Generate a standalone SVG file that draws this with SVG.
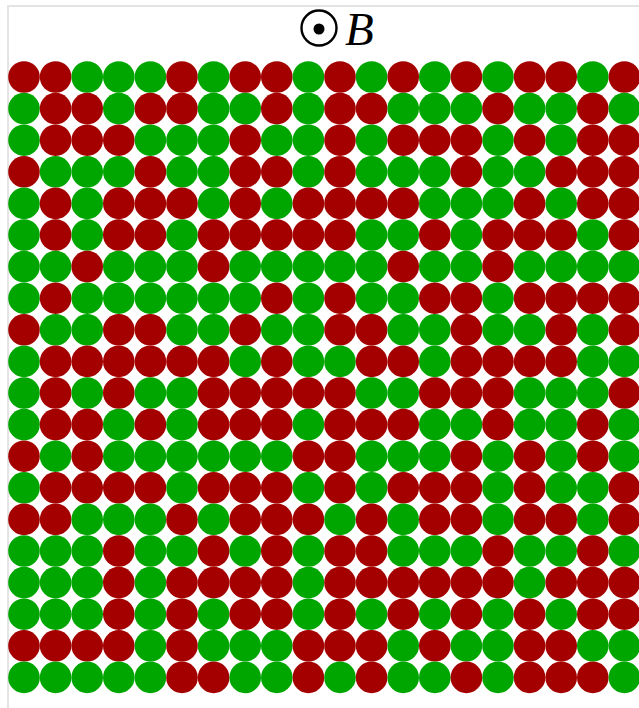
<svg xmlns="http://www.w3.org/2000/svg" width="639" height="708" viewBox="0 0 639 708">
<style>
.r{fill:#a50000}
.g{fill:#00a600}
.frame{fill:none;stroke:#e4e4e4;stroke-width:2}
</style>
<rect x="0" y="0" width="639" height="708" fill="#ffffff"/>
<rect class="frame" x="8" y="6" width="660" height="740"/>
<g id="field-symbol">
<circle cx="319" cy="28" r="17.5" fill="none" stroke="#000" stroke-width="2.4"/>
<circle cx="319" cy="29" r="5.5" fill="#000"/>
<text x="345" y="45" font-family="Liberation Serif, serif" font-style="italic" font-size="47" fill="#000">B</text>
</g>
<g id="grid">
<g id="row1" transform="translate(0,77)"><circle class="r" cx="24" r="15.8"/><circle class="r" cx="55.6" r="15.8"/><circle class="g" cx="87.2" r="15.8"/><circle class="g" cx="118.8" r="15.8"/><circle class="g" cx="150.4" r="15.8"/><circle class="r" cx="182" r="15.8"/><circle class="g" cx="213.6" r="15.8"/><circle class="r" cx="245.2" r="15.8"/><circle class="r" cx="276.8" r="15.8"/><circle class="g" cx="308.4" r="15.8"/><circle class="r" cx="340" r="15.8"/><circle class="g" cx="371.6" r="15.8"/><circle class="r" cx="403.2" r="15.8"/><circle class="g" cx="434.8" r="15.8"/><circle class="r" cx="466.4" r="15.8"/><circle class="g" cx="498" r="15.8"/><circle class="r" cx="529.6" r="15.8"/><circle class="r" cx="561.2" r="15.8"/><circle class="g" cx="592.8" r="15.8"/><circle class="r" cx="624.4" r="15.8"/></g>
<g id="row2" transform="translate(0,108.6)"><circle class="g" cx="24" r="15.8"/><circle class="r" cx="55.6" r="15.8"/><circle class="r" cx="87.2" r="15.8"/><circle class="g" cx="118.8" r="15.8"/><circle class="r" cx="150.4" r="15.8"/><circle class="r" cx="182" r="15.8"/><circle class="g" cx="213.6" r="15.8"/><circle class="g" cx="245.2" r="15.8"/><circle class="r" cx="276.8" r="15.8"/><circle class="g" cx="308.4" r="15.8"/><circle class="r" cx="340" r="15.8"/><circle class="r" cx="371.6" r="15.8"/><circle class="g" cx="403.2" r="15.8"/><circle class="g" cx="434.8" r="15.8"/><circle class="g" cx="466.4" r="15.8"/><circle class="r" cx="498" r="15.8"/><circle class="g" cx="529.6" r="15.8"/><circle class="g" cx="561.2" r="15.8"/><circle class="r" cx="592.8" r="15.8"/><circle class="g" cx="624.4" r="15.8"/></g>
<g id="row3" transform="translate(0,140.2)"><circle class="g" cx="24" r="15.8"/><circle class="r" cx="55.6" r="15.8"/><circle class="r" cx="87.2" r="15.8"/><circle class="r" cx="118.8" r="15.8"/><circle class="g" cx="150.4" r="15.8"/><circle class="g" cx="182" r="15.8"/><circle class="g" cx="213.6" r="15.8"/><circle class="r" cx="245.2" r="15.8"/><circle class="g" cx="276.8" r="15.8"/><circle class="g" cx="308.4" r="15.8"/><circle class="r" cx="340" r="15.8"/><circle class="g" cx="371.6" r="15.8"/><circle class="r" cx="403.2" r="15.8"/><circle class="r" cx="434.8" r="15.8"/><circle class="r" cx="466.4" r="15.8"/><circle class="g" cx="498" r="15.8"/><circle class="r" cx="529.6" r="15.8"/><circle class="g" cx="561.2" r="15.8"/><circle class="r" cx="592.8" r="15.8"/><circle class="r" cx="624.4" r="15.8"/></g>
<g id="row4" transform="translate(0,171.8)"><circle class="r" cx="24" r="15.8"/><circle class="g" cx="55.6" r="15.8"/><circle class="g" cx="87.2" r="15.8"/><circle class="g" cx="118.8" r="15.8"/><circle class="r" cx="150.4" r="15.8"/><circle class="g" cx="182" r="15.8"/><circle class="g" cx="213.6" r="15.8"/><circle class="r" cx="245.2" r="15.8"/><circle class="r" cx="276.8" r="15.8"/><circle class="g" cx="308.4" r="15.8"/><circle class="r" cx="340" r="15.8"/><circle class="g" cx="371.6" r="15.8"/><circle class="g" cx="403.2" r="15.8"/><circle class="g" cx="434.8" r="15.8"/><circle class="r" cx="466.4" r="15.8"/><circle class="g" cx="498" r="15.8"/><circle class="g" cx="529.6" r="15.8"/><circle class="r" cx="561.2" r="15.8"/><circle class="r" cx="592.8" r="15.8"/><circle class="r" cx="624.4" r="15.8"/></g>
<g id="row5" transform="translate(0,203.4)"><circle class="g" cx="24" r="15.8"/><circle class="r" cx="55.6" r="15.8"/><circle class="g" cx="87.2" r="15.8"/><circle class="r" cx="118.8" r="15.8"/><circle class="r" cx="150.4" r="15.8"/><circle class="r" cx="182" r="15.8"/><circle class="g" cx="213.6" r="15.8"/><circle class="r" cx="245.2" r="15.8"/><circle class="g" cx="276.8" r="15.8"/><circle class="r" cx="308.4" r="15.8"/><circle class="r" cx="340" r="15.8"/><circle class="r" cx="371.6" r="15.8"/><circle class="r" cx="403.2" r="15.8"/><circle class="g" cx="434.8" r="15.8"/><circle class="g" cx="466.4" r="15.8"/><circle class="g" cx="498" r="15.8"/><circle class="r" cx="529.6" r="15.8"/><circle class="g" cx="561.2" r="15.8"/><circle class="r" cx="592.8" r="15.8"/><circle class="r" cx="624.4" r="15.8"/></g>
<g id="row6" transform="translate(0,235)"><circle class="g" cx="24" r="15.8"/><circle class="r" cx="55.6" r="15.8"/><circle class="g" cx="87.2" r="15.8"/><circle class="r" cx="118.8" r="15.8"/><circle class="r" cx="150.4" r="15.8"/><circle class="g" cx="182" r="15.8"/><circle class="r" cx="213.6" r="15.8"/><circle class="r" cx="245.2" r="15.8"/><circle class="r" cx="276.8" r="15.8"/><circle class="r" cx="308.4" r="15.8"/><circle class="r" cx="340" r="15.8"/><circle class="g" cx="371.6" r="15.8"/><circle class="g" cx="403.2" r="15.8"/><circle class="r" cx="434.8" r="15.8"/><circle class="g" cx="466.4" r="15.8"/><circle class="r" cx="498" r="15.8"/><circle class="r" cx="529.6" r="15.8"/><circle class="r" cx="561.2" r="15.8"/><circle class="g" cx="592.8" r="15.8"/><circle class="r" cx="624.4" r="15.8"/></g>
<g id="row7" transform="translate(0,266.6)"><circle class="g" cx="24" r="15.8"/><circle class="g" cx="55.6" r="15.8"/><circle class="r" cx="87.2" r="15.8"/><circle class="g" cx="118.8" r="15.8"/><circle class="g" cx="150.4" r="15.8"/><circle class="g" cx="182" r="15.8"/><circle class="r" cx="213.6" r="15.8"/><circle class="g" cx="245.2" r="15.8"/><circle class="g" cx="276.8" r="15.8"/><circle class="g" cx="308.4" r="15.8"/><circle class="g" cx="340" r="15.8"/><circle class="g" cx="371.6" r="15.8"/><circle class="r" cx="403.2" r="15.8"/><circle class="g" cx="434.8" r="15.8"/><circle class="g" cx="466.4" r="15.8"/><circle class="r" cx="498" r="15.8"/><circle class="g" cx="529.6" r="15.8"/><circle class="g" cx="561.2" r="15.8"/><circle class="g" cx="592.8" r="15.8"/><circle class="g" cx="624.4" r="15.8"/></g>
<g id="row8" transform="translate(0,298.2)"><circle class="g" cx="24" r="15.8"/><circle class="r" cx="55.6" r="15.8"/><circle class="g" cx="87.2" r="15.8"/><circle class="g" cx="118.8" r="15.8"/><circle class="g" cx="150.4" r="15.8"/><circle class="g" cx="182" r="15.8"/><circle class="g" cx="213.6" r="15.8"/><circle class="g" cx="245.2" r="15.8"/><circle class="r" cx="276.8" r="15.8"/><circle class="g" cx="308.4" r="15.8"/><circle class="r" cx="340" r="15.8"/><circle class="g" cx="371.6" r="15.8"/><circle class="g" cx="403.2" r="15.8"/><circle class="r" cx="434.8" r="15.8"/><circle class="r" cx="466.4" r="15.8"/><circle class="g" cx="498" r="15.8"/><circle class="r" cx="529.6" r="15.8"/><circle class="r" cx="561.2" r="15.8"/><circle class="r" cx="592.8" r="15.8"/><circle class="r" cx="624.4" r="15.8"/></g>
<g id="row9" transform="translate(0,329.8)"><circle class="r" cx="24" r="15.8"/><circle class="g" cx="55.6" r="15.8"/><circle class="g" cx="87.2" r="15.8"/><circle class="r" cx="118.8" r="15.8"/><circle class="r" cx="150.4" r="15.8"/><circle class="g" cx="182" r="15.8"/><circle class="g" cx="213.6" r="15.8"/><circle class="r" cx="245.2" r="15.8"/><circle class="g" cx="276.8" r="15.8"/><circle class="g" cx="308.4" r="15.8"/><circle class="r" cx="340" r="15.8"/><circle class="r" cx="371.6" r="15.8"/><circle class="g" cx="403.2" r="15.8"/><circle class="g" cx="434.8" r="15.8"/><circle class="r" cx="466.4" r="15.8"/><circle class="g" cx="498" r="15.8"/><circle class="g" cx="529.6" r="15.8"/><circle class="r" cx="561.2" r="15.8"/><circle class="g" cx="592.8" r="15.8"/><circle class="r" cx="624.4" r="15.8"/></g>
<g id="row10" transform="translate(0,361.4)"><circle class="g" cx="24" r="15.8"/><circle class="r" cx="55.6" r="15.8"/><circle class="r" cx="87.2" r="15.8"/><circle class="r" cx="118.8" r="15.8"/><circle class="r" cx="150.4" r="15.8"/><circle class="r" cx="182" r="15.8"/><circle class="r" cx="213.6" r="15.8"/><circle class="g" cx="245.2" r="15.8"/><circle class="r" cx="276.8" r="15.8"/><circle class="g" cx="308.4" r="15.8"/><circle class="g" cx="340" r="15.8"/><circle class="r" cx="371.6" r="15.8"/><circle class="r" cx="403.2" r="15.8"/><circle class="g" cx="434.8" r="15.8"/><circle class="r" cx="466.4" r="15.8"/><circle class="r" cx="498" r="15.8"/><circle class="r" cx="529.6" r="15.8"/><circle class="r" cx="561.2" r="15.8"/><circle class="g" cx="592.8" r="15.8"/><circle class="g" cx="624.4" r="15.8"/></g>
<g id="row11" transform="translate(0,393)"><circle class="g" cx="24" r="15.8"/><circle class="r" cx="55.6" r="15.8"/><circle class="g" cx="87.2" r="15.8"/><circle class="r" cx="118.8" r="15.8"/><circle class="g" cx="150.4" r="15.8"/><circle class="g" cx="182" r="15.8"/><circle class="r" cx="213.6" r="15.8"/><circle class="r" cx="245.2" r="15.8"/><circle class="r" cx="276.8" r="15.8"/><circle class="r" cx="308.4" r="15.8"/><circle class="r" cx="340" r="15.8"/><circle class="g" cx="371.6" r="15.8"/><circle class="g" cx="403.2" r="15.8"/><circle class="r" cx="434.8" r="15.8"/><circle class="r" cx="466.4" r="15.8"/><circle class="r" cx="498" r="15.8"/><circle class="g" cx="529.6" r="15.8"/><circle class="g" cx="561.2" r="15.8"/><circle class="g" cx="592.8" r="15.8"/><circle class="r" cx="624.4" r="15.8"/></g>
<g id="row12" transform="translate(0,424.6)"><circle class="g" cx="24" r="15.8"/><circle class="r" cx="55.6" r="15.8"/><circle class="r" cx="87.2" r="15.8"/><circle class="g" cx="118.8" r="15.8"/><circle class="r" cx="150.4" r="15.8"/><circle class="g" cx="182" r="15.8"/><circle class="r" cx="213.6" r="15.8"/><circle class="r" cx="245.2" r="15.8"/><circle class="r" cx="276.8" r="15.8"/><circle class="g" cx="308.4" r="15.8"/><circle class="r" cx="340" r="15.8"/><circle class="r" cx="371.6" r="15.8"/><circle class="r" cx="403.2" r="15.8"/><circle class="g" cx="434.8" r="15.8"/><circle class="g" cx="466.4" r="15.8"/><circle class="r" cx="498" r="15.8"/><circle class="g" cx="529.6" r="15.8"/><circle class="g" cx="561.2" r="15.8"/><circle class="r" cx="592.8" r="15.8"/><circle class="g" cx="624.4" r="15.8"/></g>
<g id="row13" transform="translate(0,456.2)"><circle class="r" cx="24" r="15.8"/><circle class="g" cx="55.6" r="15.8"/><circle class="r" cx="87.2" r="15.8"/><circle class="g" cx="118.8" r="15.8"/><circle class="g" cx="150.4" r="15.8"/><circle class="g" cx="182" r="15.8"/><circle class="g" cx="213.6" r="15.8"/><circle class="g" cx="245.2" r="15.8"/><circle class="g" cx="276.8" r="15.8"/><circle class="r" cx="308.4" r="15.8"/><circle class="r" cx="340" r="15.8"/><circle class="g" cx="371.6" r="15.8"/><circle class="g" cx="403.2" r="15.8"/><circle class="g" cx="434.8" r="15.8"/><circle class="r" cx="466.4" r="15.8"/><circle class="g" cx="498" r="15.8"/><circle class="r" cx="529.6" r="15.8"/><circle class="g" cx="561.2" r="15.8"/><circle class="r" cx="592.8" r="15.8"/><circle class="g" cx="624.4" r="15.8"/></g>
<g id="row14" transform="translate(0,487.8)"><circle class="g" cx="24" r="15.8"/><circle class="r" cx="55.6" r="15.8"/><circle class="r" cx="87.2" r="15.8"/><circle class="r" cx="118.8" r="15.8"/><circle class="r" cx="150.4" r="15.8"/><circle class="g" cx="182" r="15.8"/><circle class="r" cx="213.6" r="15.8"/><circle class="r" cx="245.2" r="15.8"/><circle class="r" cx="276.8" r="15.8"/><circle class="g" cx="308.4" r="15.8"/><circle class="r" cx="340" r="15.8"/><circle class="g" cx="371.6" r="15.8"/><circle class="r" cx="403.2" r="15.8"/><circle class="r" cx="434.8" r="15.8"/><circle class="r" cx="466.4" r="15.8"/><circle class="g" cx="498" r="15.8"/><circle class="r" cx="529.6" r="15.8"/><circle class="g" cx="561.2" r="15.8"/><circle class="g" cx="592.8" r="15.8"/><circle class="r" cx="624.4" r="15.8"/></g>
<g id="row15" transform="translate(0,519.4)"><circle class="r" cx="24" r="15.8"/><circle class="r" cx="55.6" r="15.8"/><circle class="g" cx="87.2" r="15.8"/><circle class="g" cx="118.8" r="15.8"/><circle class="g" cx="150.4" r="15.8"/><circle class="r" cx="182" r="15.8"/><circle class="g" cx="213.6" r="15.8"/><circle class="r" cx="245.2" r="15.8"/><circle class="r" cx="276.8" r="15.8"/><circle class="r" cx="308.4" r="15.8"/><circle class="g" cx="340" r="15.8"/><circle class="r" cx="371.6" r="15.8"/><circle class="g" cx="403.2" r="15.8"/><circle class="r" cx="434.8" r="15.8"/><circle class="r" cx="466.4" r="15.8"/><circle class="g" cx="498" r="15.8"/><circle class="r" cx="529.6" r="15.8"/><circle class="r" cx="561.2" r="15.8"/><circle class="g" cx="592.8" r="15.8"/><circle class="r" cx="624.4" r="15.8"/></g>
<g id="row16" transform="translate(0,551)"><circle class="g" cx="24" r="15.8"/><circle class="g" cx="55.6" r="15.8"/><circle class="g" cx="87.2" r="15.8"/><circle class="r" cx="118.8" r="15.8"/><circle class="g" cx="150.4" r="15.8"/><circle class="g" cx="182" r="15.8"/><circle class="r" cx="213.6" r="15.8"/><circle class="g" cx="245.2" r="15.8"/><circle class="r" cx="276.8" r="15.8"/><circle class="g" cx="308.4" r="15.8"/><circle class="r" cx="340" r="15.8"/><circle class="r" cx="371.6" r="15.8"/><circle class="g" cx="403.2" r="15.8"/><circle class="g" cx="434.8" r="15.8"/><circle class="g" cx="466.4" r="15.8"/><circle class="r" cx="498" r="15.8"/><circle class="g" cx="529.6" r="15.8"/><circle class="g" cx="561.2" r="15.8"/><circle class="r" cx="592.8" r="15.8"/><circle class="g" cx="624.4" r="15.8"/></g>
<g id="row17" transform="translate(0,582.6)"><circle class="g" cx="24" r="15.8"/><circle class="g" cx="55.6" r="15.8"/><circle class="g" cx="87.2" r="15.8"/><circle class="r" cx="118.8" r="15.8"/><circle class="g" cx="150.4" r="15.8"/><circle class="r" cx="182" r="15.8"/><circle class="r" cx="213.6" r="15.8"/><circle class="r" cx="245.2" r="15.8"/><circle class="r" cx="276.8" r="15.8"/><circle class="g" cx="308.4" r="15.8"/><circle class="r" cx="340" r="15.8"/><circle class="r" cx="371.6" r="15.8"/><circle class="r" cx="403.2" r="15.8"/><circle class="r" cx="434.8" r="15.8"/><circle class="r" cx="466.4" r="15.8"/><circle class="r" cx="498" r="15.8"/><circle class="g" cx="529.6" r="15.8"/><circle class="r" cx="561.2" r="15.8"/><circle class="r" cx="592.8" r="15.8"/><circle class="r" cx="624.4" r="15.8"/></g>
<g id="row18" transform="translate(0,614.2)"><circle class="g" cx="24" r="15.8"/><circle class="g" cx="55.6" r="15.8"/><circle class="g" cx="87.2" r="15.8"/><circle class="r" cx="118.8" r="15.8"/><circle class="g" cx="150.4" r="15.8"/><circle class="r" cx="182" r="15.8"/><circle class="g" cx="213.6" r="15.8"/><circle class="r" cx="245.2" r="15.8"/><circle class="r" cx="276.8" r="15.8"/><circle class="g" cx="308.4" r="15.8"/><circle class="r" cx="340" r="15.8"/><circle class="g" cx="371.6" r="15.8"/><circle class="r" cx="403.2" r="15.8"/><circle class="g" cx="434.8" r="15.8"/><circle class="r" cx="466.4" r="15.8"/><circle class="g" cx="498" r="15.8"/><circle class="r" cx="529.6" r="15.8"/><circle class="g" cx="561.2" r="15.8"/><circle class="r" cx="592.8" r="15.8"/><circle class="r" cx="624.4" r="15.8"/></g>
<g id="row19" transform="translate(0,645.8)"><circle class="r" cx="24" r="15.8"/><circle class="r" cx="55.6" r="15.8"/><circle class="r" cx="87.2" r="15.8"/><circle class="r" cx="118.8" r="15.8"/><circle class="g" cx="150.4" r="15.8"/><circle class="r" cx="182" r="15.8"/><circle class="g" cx="213.6" r="15.8"/><circle class="g" cx="245.2" r="15.8"/><circle class="g" cx="276.8" r="15.8"/><circle class="r" cx="308.4" r="15.8"/><circle class="r" cx="340" r="15.8"/><circle class="r" cx="371.6" r="15.8"/><circle class="g" cx="403.2" r="15.8"/><circle class="r" cx="434.8" r="15.8"/><circle class="g" cx="466.4" r="15.8"/><circle class="g" cx="498" r="15.8"/><circle class="r" cx="529.6" r="15.8"/><circle class="r" cx="561.2" r="15.8"/><circle class="g" cx="592.8" r="15.8"/><circle class="g" cx="624.4" r="15.8"/></g>
<g id="row20" transform="translate(0,677.4)"><circle class="g" cx="24" r="15.8"/><circle class="g" cx="55.6" r="15.8"/><circle class="g" cx="87.2" r="15.8"/><circle class="g" cx="118.8" r="15.8"/><circle class="g" cx="150.4" r="15.8"/><circle class="r" cx="182" r="15.8"/><circle class="r" cx="213.6" r="15.8"/><circle class="g" cx="245.2" r="15.8"/><circle class="g" cx="276.8" r="15.8"/><circle class="r" cx="308.4" r="15.8"/><circle class="g" cx="340" r="15.8"/><circle class="r" cx="371.6" r="15.8"/><circle class="g" cx="403.2" r="15.8"/><circle class="g" cx="434.8" r="15.8"/><circle class="r" cx="466.4" r="15.8"/><circle class="g" cx="498" r="15.8"/><circle class="r" cx="529.6" r="15.8"/><circle class="r" cx="561.2" r="15.8"/><circle class="r" cx="592.8" r="15.8"/><circle class="g" cx="624.4" r="15.8"/></g>
</g>
</svg>
